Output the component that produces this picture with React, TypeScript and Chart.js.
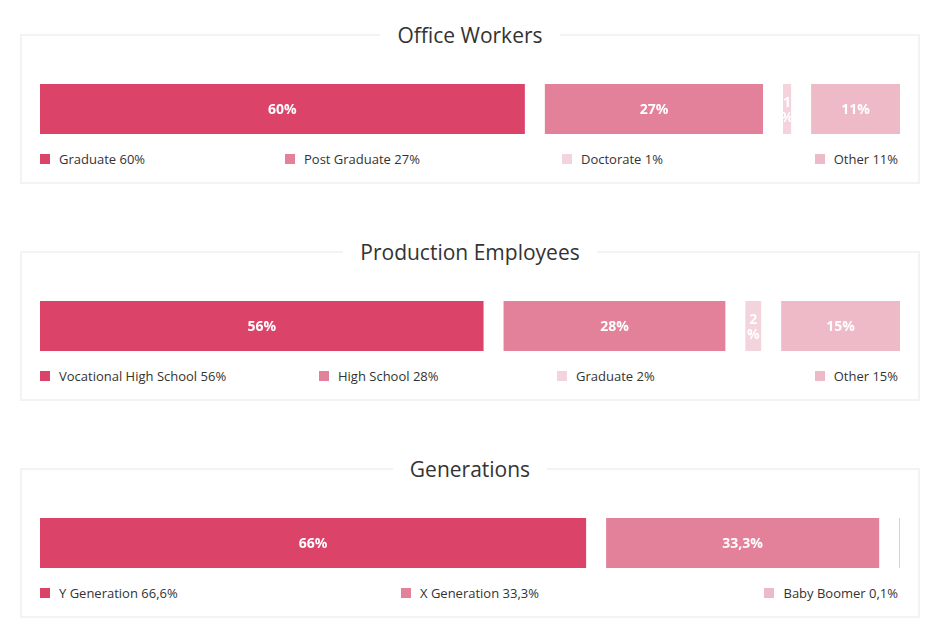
import React, { useEffect, useRef } from "react";
import { Chart, registerables } from "chart.js";

Chart.register(...registerables);

// ---------- data ----------
const officeTitle = "Office Workers";
const officeCategories = ["Graduate", "Post Graduate", "Doctorate", "Other"];
const officeValues = [60, 27, 1, 11];
const officeBarLabels = ["60%", "27%", "1%", "11%"];
const officeLegendLabels = ["Graduate 60%", "Post Graduate 27%", "Doctorate 1%", "Other 11%"];

const productionTitle = "Production Employees";
const productionCategories = ["Vocational High School", "High School", "Graduate", "Other"];
const productionValues = [56, 28, 2, 15];
const productionBarLabels = ["56%", "28%", "2%", "15%"];
const productionLegendLabels = ["Vocational High School 56%", "High School 28%", "Graduate 2%", "Other 15%"];

const generationsTitle = "Generations";
const generationsCategories = ["Y Generation", "X Generation", "Baby Boomer"];
const generationsValues = [66.6, 33.3, 0.1];
const generationsBarLabels = ["66%", "33,3%", "0,1%"];
const generationsLegendLabels = ["Y Generation 66,6%", "X Generation 33,3%", "Baby Boomer 0,1%"];

// ---------- styles / layout ----------
const COLORS4 = ["#db4369", "#e3819a", "#f3d3dc", "#efbac8"];
const COLORS3 = ["#db4369", "#e3819a", "#efbac8"];
const PANEL_TOPS = [34, 251, 468];
const LEGEND_LEFTS = [
  [40, 285, 562],
  [40, 319, 557],
  [40, 401],
];
const BAR_W = 860;
const BAR_H = 50;
const GAP_PX = 20;
const FONT = '"Open Sans", "DejaVu Sans", sans-serif';

type Panel = {
  title: string;
  categories: string[];
  values: number[];
  barLabels: string[];
  legendLabels: string[];
  colors: string[];
  legendLefts: number[];
  top: number;
};

const panels: Panel[] = [
  { title: officeTitle, categories: officeCategories, values: officeValues, barLabels: officeBarLabels, legendLabels: officeLegendLabels, colors: COLORS4, legendLefts: LEGEND_LEFTS[0], top: PANEL_TOPS[0] },
  { title: productionTitle, categories: productionCategories, values: productionValues, barLabels: productionBarLabels, legendLabels: productionLegendLabels, colors: COLORS4, legendLefts: LEGEND_LEFTS[1], top: PANEL_TOPS[1] },
  { title: generationsTitle, categories: generationsCategories, values: generationsValues, barLabels: generationsBarLabels, legendLabels: generationsLegendLabels, colors: COLORS3, legendLefts: LEGEND_LEFTS[2], top: PANEL_TOPS[2] },
];

const barLabelPlugin = {
  id: "barLabels",
  afterDatasetsDraw(chart: any) {
    const ctx = chart.ctx;
    chart.data.datasets.forEach((ds: any, i: number) => {
      const meta = chart.getDatasetMeta(i);
      meta.data.forEach((el: any) => {
        const p = el.getProps(["x", "y", "base", "height"], true);
        const left = Math.min(p.x, p.base);
        const right = Math.max(p.x, p.base);
        const w = right - left;
        const top = p.y - p.height / 2;
        const text: string = ds.barLabel || "";
        if (!text || w < 5) return;
        ctx.save();
        ctx.beginPath();
        ctx.rect(left, top, w, p.height);
        ctx.clip();
        ctx.font = "bold 14px " + FONT;
        ctx.fillStyle = "#ffffff";
        ctx.textAlign = "center";
        ctx.textBaseline = "middle";
        const lines: string[] = [];
        let cur = "";
        for (const ch of text) {
          if (cur && ctx.measureText(cur + ch).width > w) {
            lines.push(cur);
            cur = ch;
          } else cur += ch;
        }
        if (cur) lines.push(cur);
        const lh = 15;
        const cx = (left + right) / 2;
        lines.forEach((ln, k) => {
          const ly = p.y + 1.5 + (k - (lines.length - 1) / 2) * lh;
          ctx.fillText(ln, cx, ly);
        });
        ctx.restore();
      });
    });
  },
};

function BarCanvas({ panel }: { panel: Panel }) {
  const ref = useRef<HTMLCanvasElement | null>(null);
  useEffect(() => {
    if (!ref.current) return;
    const total = panel.values.reduce((a, b) => a + b, 0);
    const n = panel.values.length;
    const pxPerUnit = (BAR_W - GAP_PX * (n - 1)) / total;
    const gapUnits = GAP_PX / pxPerUnit;
    let start = 0;
    const datasets = panel.values.map((v, i) => {
      const s = start;
      start += v + gapUnits;
      return {
        label: panel.categories[i],
        data: [[s, s + v]],
        backgroundColor: panel.colors[i],
        borderWidth: 0,
        barPercentage: 1,
        categoryPercentage: 1,
        grouped: false,
        inflateAmount: 0,
        minBarLength: 2,
        barLabel: panel.barLabels[i],
      };
    });
    const chart = new Chart(ref.current, {
      type: "bar",
      data: { labels: [panel.title], datasets: datasets as any },
      options: {
        indexAxis: "y",
        animation: false,
        responsive: false,
        maintainAspectRatio: false,
        layout: { padding: 0 },
        scales: {
          x: { display: false, min: 0, max: total + gapUnits * (n - 1) },
          y: { display: false },
        },
        plugins: { legend: { display: false }, tooltip: { enabled: false }, title: { display: false } },
      },
      plugins: [barLabelPlugin],
    });
    return () => chart.destroy();
  }, [panel]);
  return <canvas ref={ref} width={BAR_W} height={BAR_H} style={{ display: "block", width: BAR_W, height: BAR_H }} />;
}

function PanelView({ panel }: { panel: Panel }) {
  const last = panel.legendLabels.length - 1;
  return (
    <div style={{ position: "absolute", left: 0, top: panel.top, width: 940, height: 150 }}>
      <div
        style={{
          position: "absolute",
          left: 20,
          top: 0,
          width: 900,
          height: 150,
          border: "2px solid #f3f3f3",
          boxSizing: "border-box",
        }}
      />
      <div style={{ position: "absolute", left: 0, top: -12, width: 940, textAlign: "center", lineHeight: "26px" }}>
        <span
          style={{
            background: "#ffffff",
            padding: "0 17px",
            fontFamily: FONT,
            fontSize: 21,
            color: "#333333",
          }}
        >
          {panel.title}
        </span>
      </div>
      <div style={{ position: "absolute", left: 40, top: 50, width: BAR_W, height: BAR_H }}>
        <BarCanvas panel={panel} />
      </div>
      {panel.legendLabels.map((lab, i) => (
        <div
          key={lab}
          style={{
            position: "absolute",
            ...(i === last ? { right: 42 } : { left: panel.legendLefts[i] }),
            top: 116,
            height: 18,
            display: "flex",
            alignItems: "center",
            whiteSpace: "nowrap",
          }}
        >
          <span style={{ display: "inline-block", width: 10, height: 10, background: panel.colors[i], marginRight: 9 }} />
          <span style={{ fontFamily: FONT, fontSize: 13, color: "#333333", lineHeight: "18px" }}>{lab}</span>
        </div>
      ))}
    </div>
  );
}

export default function App() {
  return (
    <div style={{ position: "absolute", left: 0, top: 0, width: 940, height: 639, background: "#ffffff" }}>
      {panels.map((p) => (
        <PanelView key={p.title} panel={p} />
      ))}
    </div>
  );
}
